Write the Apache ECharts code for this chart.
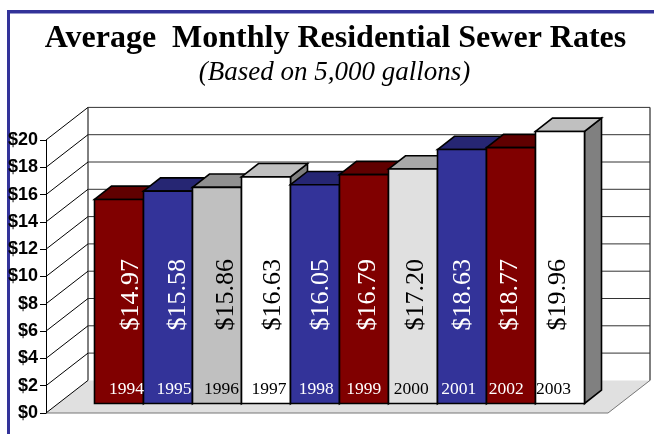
<!DOCTYPE html>
<html>
<head>
<meta charset="utf-8">
<style>html,body{margin:0;padding:0;background:#fff}#c{width:654px;height:434px}</style>
<script src="https://cdn.jsdelivr.net/npm/echarts@6/dist/echarts.min.js"></script>
</head>
<body>
<div id="c"></div>
<script>
const years = ['1994','1995','1996','1997','1998','1999','2000','2001','2002','2003'];
const rates = [14.97,15.58,15.86,16.63,16.05,16.79,17.20,18.63,18.77,19.96];
const axisValues = [0,2,4,6,8,10,12,14,16,18,20];
const titleText = 'Average  Monthly Residential Sewer Rates';
const subtitleText = '(Based on 5,000 gallons)';

const MAROON = ['#800000','#600000','#600000','#ffffff'];
const BLUE   = ['#333399','#262673','#262673','#ffffff'];
const SILVER = ['#c0c0c0','#909090','#909090','#000000'];
const WHITE  = ['#ffffff','#c0c0c0','#808080','#000000'];
const PALE   = ['#e0e0e0','#a8a8a8','#a8a8a8','#000000'];
const barStyles = [MAROON,BLUE,SILVER,WHITE,BLUE,MAROON,PALE,BLUE,MAROON,WHITE];

const WALL_DX = 42, WALL_DY = -32.6;
const BAR_DX = 17, BAR_DY = -13.3;

function renderWalls(params, api) {
  const v = api.value(0);
  const L = api.coord([0, v]), R = api.coord([1, v]);
  const kids = [];
  const ln = (a,b,c,w) => ({type:'line', shape:{x1:a[0],y1:a[1],x2:b[0],y2:b[1]}, style:{stroke:c,lineWidth:w||1}});
  if (v === 0) {
    const top = api.coord([0, axisValues[axisValues.length-1]]);
    kids.push({type:'polygon', shape:{points:[
      [top[0]+WALL_DX, top[1]+WALL_DY],
      [R[0]+WALL_DX, top[1]+WALL_DY],
      [R[0]+WALL_DX, R[1]+WALL_DY],
      [L[0]+WALL_DX, L[1]+WALL_DY],
    ]}, style:{fill:'#ffffff'}});
    kids.push({type:'polygon', shape:{points:[L,R,[R[0]+WALL_DX,R[1]+WALL_DY],[L[0]+WALL_DX,L[1]+WALL_DY]]},
      style:{fill:'#e0e0e0'}});
    kids.push(ln(L,R,'#777777',1.2));
    kids.push(ln(R,[R[0]+WALL_DX,R[1]+WALL_DY],'#777777',1));
    kids.push(ln([L[0]+WALL_DX,L[1]+WALL_DY],[L[0]+WALL_DX,top[1]+WALL_DY],'#000000',1));
    kids.push(ln([R[0]+WALL_DX,R[1]+WALL_DY],[R[0]+WALL_DX,top[1]+WALL_DY],'#000000',1));
  } else {
    kids.push(ln([L[0]+WALL_DX,L[1]+WALL_DY],[R[0]+WALL_DX,R[1]+WALL_DY],'#333333',1));
  }
  kids.push(ln(L,[L[0]+WALL_DX,L[1]+WALL_DY],'#000000',1));
  return {type:'group', children:kids};
}

function renderBar(params, api) {
  const i = params.dataIndex;
  const c = api.coord([i, api.value(1)]);
  const b = api.coord([i, 0]);
  const hw = api.size([1,0])[0] / 2;
  const st = barStyles[i];
  const x0 = c[0]-hw, x1 = c[0]+hw, yt = c[1], yb = b[1];
  const edge = {stroke:'#000000', lineWidth:1.6, lineJoin:'miter'};
  return {type:'group', children:[
    {type:'polygon', shape:{points:[[x1,yt],[x1+BAR_DX,yt+BAR_DY],[x1+BAR_DX,yb+BAR_DY],[x1,yb]]},
      style:Object.assign({fill:st[2]},edge)},
    {type:'polygon', shape:{points:[[x0,yt],[x0+BAR_DX,yt+BAR_DY],[x1+BAR_DX,yt+BAR_DY],[x1,yt]]},
      style:Object.assign({fill:st[1]},edge)},
    {type:'rect', shape:{x:x0,y:yt,width:x1-x0,height:yb-yt},
      style:Object.assign({fill:st[0]},edge)},
  ]};
}

function renderLabels(params, api) {
  const i = params.dataIndex;
  const b = api.coord([i, 0]);
  const st = barStyles[i];
  return {type:'group', children:[
    {type:'text', x:b[0]+1, y:b[1]-73, rotation:Math.PI/2,
      style:{text:'$'+rates[i].toFixed(2), x:0, y:0, align:'left', verticalAlign:'middle',
        fill:st[3], font:'26px "Liberation Serif"'}},
    {type:'text', x:b[0]-3.5, y:b[1]-14.5,
      style:{text:years[i], x:0, y:0, align:'center', verticalAlign:'middle',
        fill:st[3], font:'17.5px "Liberation Serif"'}},
  ]};
}

const chart = echarts.init(document.getElementById('c'), null, {renderer:'canvas'});
chart.setOption({
  animation:false,
  backgroundColor:'#ffffff',
  title:[
    {text:titleText, left:330.5, top:18, textAlign:'center',
      textStyle:{fontFamily:'Liberation Serif', fontSize:32, fontWeight:'bold', color:'#000'}},
    {text:subtitleText, left:329.5, top:54, textAlign:'center',
      textStyle:{fontFamily:'Liberation Serif', fontSize:27, fontStyle:'italic', fontWeight:'normal', color:'#000'}}
  ],
  graphic:[
    {type:'rect', z:-10, shape:{x:7,y:10,width:647,height:3.4}, style:{fill:'#333399'}},
    {type:'rect', z:-10, shape:{x:7,y:10,width:3,height:424}, style:{fill:'#333399'}}
  ],
  grid:[
    {left:46, top:140, width:562, height:273},
    {left:94.5, top:130.9, width:490, height:272.6},
    {left:106.3, top:130.9, width:474.5, height:272.6}
  ],
  xAxis:[
    {gridIndex:0, type:'value', min:0, max:1, show:false},
    {gridIndex:1, type:'category', data:years, show:false},
    {gridIndex:2, type:'category', data:years, show:false}
  ],
  yAxis:[
    {gridIndex:0, type:'value', min:0, max:20, interval:2, z:5,
      splitLine:{show:false},
      axisLine:{show:true, lineStyle:{color:'#000', width:1}},
      axisTick:{show:true, length:6, lineStyle:{color:'#000', width:1}},
      axisLabel:{margin:8, padding:[3,0,0,0], formatter:'${value}', color:'#000',
        fontFamily:'Liberation Sans', fontWeight:'bold', fontSize:18}},
    {gridIndex:1, type:'value', min:0, max:20, show:false},
    {gridIndex:2, type:'value', min:0, max:20, show:false}
  ],
  series:[
    {type:'custom', xAxisIndex:0, yAxisIndex:0, z:1, silent:true, clip:false,
      data:axisValues.map(v=>[v]), encode:{y:0}, renderItem:renderWalls},
    {type:'custom', xAxisIndex:1, yAxisIndex:1, z:2, silent:true, clip:false,
      data:rates.map((v,i)=>[i,v]), encode:{x:0,y:1}, renderItem:renderBar},
    {type:'custom', xAxisIndex:2, yAxisIndex:2, z:3, silent:true, clip:false,
      data:rates.map((v,i)=>[i,v]), encode:{x:0,y:1}, renderItem:renderLabels}
  ]
});
</script>
</body>
</html>
